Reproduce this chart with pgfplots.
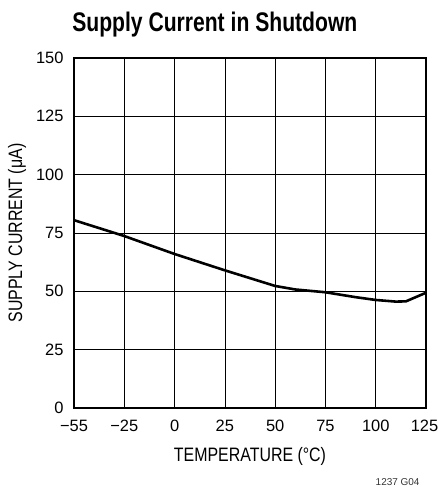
\documentclass[border=0pt]{standalone}
\usepackage{fontspec}
\setmainfont{Liberation Sans}[FakeStretch=0.82]
\newfontfamily\tickfont{Liberation Sans}
\newfontfamily\titlefont{Liberation Sans}[FakeStretch=0.785]
\usepackage{pgfplots}
\pgfplotsset{compat=1.18}
\begin{document}
\begin{tikzpicture}
\begin{axis}[
  name=ax,
  scale only axis,
  width=352bp, height=350bp,
  xmin=-50, xmax=125, ymin=0, ymax=150,
  xtick={-50,-25,0,25,50,75,100,125},
  xticklabels={−55,−25,0,25,50,75,100,\hspace*{-3bp}125},
  ytick={0,25,50,75,100,125,150},
  grid=major,
  major grid style={black, line width=0.7pt},
  axis line style={black, line width=1.4pt},
  major tick length=0pt,
  /pgf/number format/assume math mode=true,
  tick label style={font=\tickfont\fontsize{16.5}{18}\selectfont},
  xticklabel style={yshift=-9bp},
  yticklabel style={xshift=-7bp},
  label style={font=\fontsize{19.5}{22}\selectfont},
  xlabel={TEMPERATURE (°C)},
  ylabel={SUPPLY CURRENT (μA)},
  xlabel style={yshift=-8bp},
  ylabel style={yshift=3bp},
  clip=false,
]
\addplot[black, line width=2.6pt, line join=round] coordinates {
  (-50,80.5) (-25,73.7) (0,66) (25,59) (50,52.3) (60,50.8) (75,49.6)
  (90,47.5) (100,46.3) (110,45.6) (115,45.7) (125,49.4)
};
\node[font=\titlefont\fontsize{27}{30}\selectfont\bfseries, anchor=base] at (rel axis cs:0.40,1) [yshift=26bp] {Supply Current in Shutdown};
\node[font=\tickfont\fontsize{10}{12}\selectfont, anchor=base east, text=black!80] at (rel axis cs:1,0) [yshift=-77bp, xshift=-3bp] {1237 G04};
\end{axis}
\pgfresetboundingbox
\path (ax.south west) ++(-74bp,-79bp) rectangle ++(438bp,487bp);
\end{tikzpicture}
\end{document}
